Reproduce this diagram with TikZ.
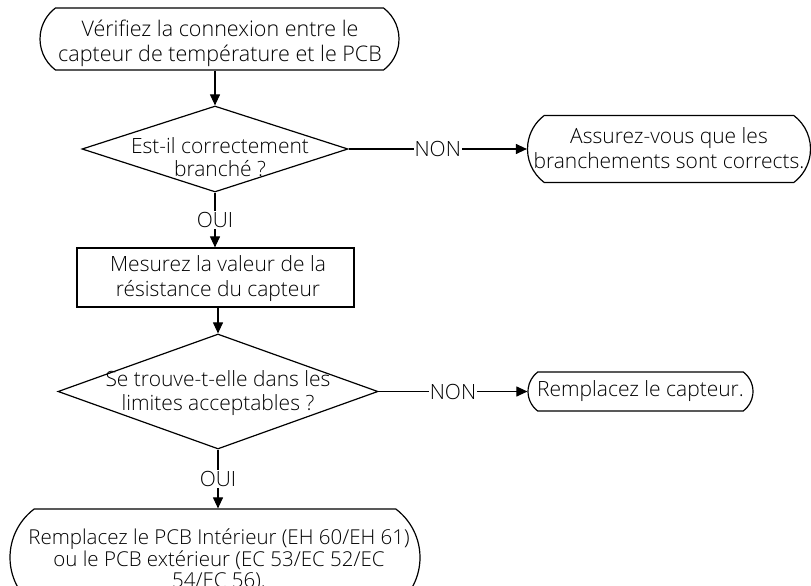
\documentclass[tikz,border=0pt]{standalone}
\usepackage{fontspec}
\setmainfont{Open Sans Light}
\usetikzlibrary{shapes.misc,shapes.geometric,arrows.meta}
\begin{document}
\begin{tikzpicture}[x=1pt,y=-1pt,
  every node/.style={font=\fontsize{21}{25}\selectfont},
  term/.style={draw, rounded rectangle, rounded rectangle arc length=106, line width=1.2pt, inner sep=0pt},
  dia/.style={draw, diamond, line width=1.2pt, inner sep=0pt},
  procbox/.style={draw, rectangle, line width=1.2pt, inner sep=0pt},
  txt/.style={align=center, inner sep=0pt},
  lbl/.style={fill=white, inner sep=1pt},
  arr/.style={line width=1.1pt, -{Triangle[length=11pt,width=10pt]}}]
\useasboundingbox (0,0) rectangle (811,586);
% shapes
\node[term, minimum width=359pt, minimum height=62pt] (start) at (219.5,39) {};
\node[dia, minimum width=266pt, minimum height=86pt] (d1) at (215,149) {};
\node[term, minimum width=283pt, minimum height=67pt] (a1) at (669,149) {};
\node[procbox, minimum width=277pt, minimum height=59pt] (mes) at (215.5,277.5) {};
\node[dia, minimum width=320pt, minimum height=115pt] (d2) at (218,391.5) {};
\node[term, minimum width=225pt, minimum height=39pt] (a2) at (640.5,391.5) {};
\node[term, minimum width=410pt, minimum height=97pt] (fin) at (215,557.5) {};
% texts
\node[txt, font=\fontsize{21.5}{25}\selectfont] (start-t) at (220,43) {Vérifiez la connexion entre le\\capteur de température et le PCB};
\node[txt, font=\fontsize{21}{23}\selectfont] (d1-t) at (220,157) {Est-il correctement\\branché ?};
\node[txt] (a1-t) at (669,148) {Assurez-vous que les\\branchements sont corrects.};
\node[txt] (mes-t) at (218,279) {Mesurez la valeur de la\\résistance du capteur};
\node[txt, font=\fontsize{21}{24}\selectfont] (d2-t) at (218,393.5) {Se trouve-t-elle dans les\\limites acceptables ?};
\node[txt] (a2-t) at (640.5,391.5) {Remplacez le capteur.};
\node[txt, font=\fontsize{20.5}{21.5}\selectfont] (fin-t) at (219,560) {Remplacez le PCB Intérieur (EH 60/EH 61)\\ou le PCB extérieur (EC 53/EC 52/EC\\54/EC 56).};
% connectors
\draw[arr] (start.south -| d1.north) -- (d1.north);
\draw[arr] (d1.east) -- node[lbl] (non1) {NON} (a1.west);
\draw[arr] (d1.south) -- node[lbl] (oui1) {OUI} (mes.north -| d1.south);
\draw[arr] (mes.south -| d2.north) -- (d2.north);
\draw[arr] (d2.east) -- node[lbl] (non2) {NON} (a2.west);
\draw[arr] (d2.south) -- node[lbl] (oui2) {OUI} (fin.north -| d2.south);
\end{tikzpicture}
\end{document}
